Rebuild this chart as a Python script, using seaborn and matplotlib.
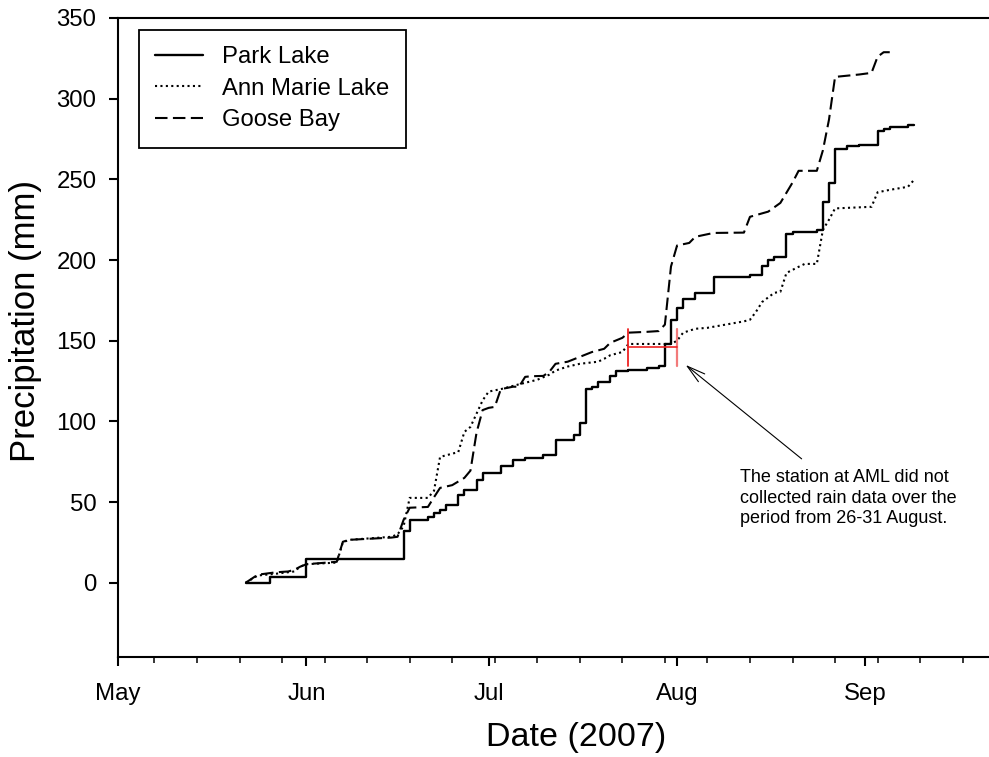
import matplotlib
matplotlib.use('Agg')
import matplotlib.pyplot as plt
import matplotlib.dates as mdates
import pandas as pd
import seaborn as sns

# ---------------- data (cumulative precipitation, mm) ----------------
park_dates = ["2007-05-22", "2007-05-26", "2007-06-01", "2007-06-17", "2007-06-18",
              "2007-06-21", "2007-06-22", "2007-06-23", "2007-06-24", "2007-06-26",
              "2007-06-27", "2007-06-29", "2007-06-30", "2007-07-03", "2007-07-05",
              "2007-07-07", "2007-07-10", "2007-07-12", "2007-07-15", "2007-07-16",
              "2007-07-17", "2007-07-18", "2007-07-19", "2007-07-21", "2007-07-22",
              "2007-07-24", "2007-07-27", "2007-07-29", "2007-07-30", "2007-07-31",
              "2007-08-01", "2007-08-02", "2007-08-04", "2007-08-07", "2007-08-13",
              "2007-08-15", "2007-08-16", "2007-08-17", "2007-08-19", "2007-08-20",
              "2007-08-24", "2007-08-25", "2007-08-26", "2007-08-27", "2007-08-29",
              "2007-08-31", "2007-09-03", "2007-09-04", "2007-09-05", "2007-09-08",
              "2007-09-09"]
park_vals = [0, 3.5, 15, 32, 39,
             41, 43, 45, 48, 54.5,
             57.5, 64, 68, 72.5, 76,
             77.5, 79, 88.5, 91.7, 99,
             120, 121.5, 124.5, 128, 131,
             132, 133, 134.5, 148, 163,
             170, 176, 179.7, 189.5, 191,
             196.6, 200, 202, 216, 217.5,
             218.7, 236, 248, 269, 270.4,
             271.4, 279.7, 281.3, 282.5, 283.6,
             283.8]

ann_dates = ["2007-05-22", "2007-05-24", "2007-05-27", "2007-05-30", "2007-05-31",
             "2007-06-01", "2007-06-06", "2007-06-07", "2007-06-08", "2007-06-15",
             "2007-06-16", "2007-06-17", "2007-06-18", "2007-06-21", "2007-06-22",
             "2007-06-23", "2007-06-26", "2007-06-27", "2007-06-28", "2007-06-30",
             "2007-07-01", "2007-07-03", "2007-07-04", "2007-07-06", "2007-07-09",
             "2007-07-11", "2007-07-12", "2007-07-14", "2007-07-16", "2007-07-19",
             "2007-07-20", "2007-07-21", "2007-07-23", "2007-07-24", "2007-07-31",
             "2007-08-01", "2007-08-02", "2007-08-04", "2007-08-06", "2007-08-09",
             "2007-08-12", "2007-08-13", "2007-08-14", "2007-08-15", "2007-08-17",
             "2007-08-18", "2007-08-19", "2007-08-21", "2007-08-22", "2007-08-24",
             "2007-08-25", "2007-08-26", "2007-08-27", "2007-09-02", "2007-09-03",
             "2007-09-05", "2007-09-08", "2007-09-09"]
ann_vals = [0, 4.5, 5.6, 7, 10,
            11.5, 12.5, 25, 26.6, 28.5,
            30, 35, 52.6, 52.6, 57,
            78, 81, 93.5, 96.6, 113,
            118.5, 120, 121, 123, 125.8,
            129, 131.5, 134, 135.7, 137,
            138.8, 141, 143, 148, 148,
            150, 155, 157.4, 158, 160,
            162, 163, 168, 174, 179.7,
            180.3, 192, 195.8, 197.6, 197.6,
            218.7, 225, 232, 233, 242,
            243.5, 245.4, 249.7]

goose_dates = ["2007-05-22", "2007-05-24", "2007-05-27", "2007-05-29", "2007-05-30",
               "2007-05-31", "2007-06-01", "2007-06-06", "2007-06-07", "2007-06-08",
               "2007-06-15", "2007-06-16", "2007-06-17", "2007-06-18", "2007-06-21",
               "2007-06-22", "2007-06-23", "2007-06-25", "2007-06-27", "2007-06-28",
               "2007-06-29", "2007-06-30", "2007-07-01", "2007-07-02", "2007-07-03",
               "2007-07-05", "2007-07-06", "2007-07-07", "2007-07-08", "2007-07-10",
               "2007-07-11", "2007-07-12", "2007-07-14", "2007-07-16", "2007-07-18",
               "2007-07-20", "2007-07-21", "2007-07-23", "2007-07-24", "2007-07-27",
               "2007-07-29", "2007-07-30", "2007-07-31", "2007-08-01", "2007-08-03",
               "2007-08-04", "2007-08-07", "2007-08-12", "2007-08-13", "2007-08-16",
               "2007-08-18", "2007-08-20", "2007-08-21", "2007-08-24", "2007-08-25",
               "2007-08-26", "2007-08-27", "2007-08-31", "2007-09-02", "2007-09-03",
               "2007-09-04", "2007-09-05"]
goose_vals = [0, 5, 6.5, 7, 8,
              10, 11.5, 13, 25.4, 26.6,
              28, 28.5, 39, 46.5, 47,
              53, 58.8, 60.5, 65, 69.5,
              93, 107, 108.4, 109, 120,
              121.5, 121.5, 127.6, 128, 128.2,
              130.8, 135.7, 137, 140, 143,
              145, 148.7, 151.8, 155, 155.5,
              156, 160, 196, 209, 210.6,
              214.4, 216.8, 217, 226.8, 230,
              235.4, 248, 255.3, 255.3, 268,
              287, 313.5, 315, 316, 326,
              328.8, 328.8]

series_names = ["Park Lake", "Ann Marie Lake", "Goose Bay"]
yticks = [0, 50, 100, 150, 200, 250, 300, 350]

gap_start, gap_end = "2007-07-24", "2007-08-01"
gap_low, gap_mid, gap_high = 134.3, 146.0, 157.3
note = "The station at AML did not\ncollected rain data over the\nperiod from 26-31 August."

# ---------------- style ----------------
sns.set_style("ticks")
plt.rcParams['font.family'] = ['Liberation Sans', 'DejaVu Sans']
plt.rcParams['text.color'] = 'black'
plt.rcParams['axes.labelcolor'] = 'black'

fig = plt.figure(figsize=(9.89, 7.57), dpi=100)
ax = fig.add_axes([118/989, 1 - 657/757, 871/989, 639/757])

sns.lineplot(x=pd.to_datetime(park_dates), y=park_vals, ax=ax, color='black',
             lw=1.7, drawstyle='steps-post', label=series_names[0],
             estimator=None, sort=False)
sns.lineplot(x=pd.to_datetime(ann_dates), y=ann_vals, ax=ax, color='black',
             lw=1.5, linestyle=(0, (1, 1.6)), label=series_names[1],
             estimator=None, sort=False)
sns.lineplot(x=pd.to_datetime(goose_dates), y=goose_vals, ax=ax, color='black',
             lw=1.5, linestyle=(0, (6, 2.6)), label=series_names[2],
             estimator=None, sort=False)

# gap marker (red)
gs, ge = pd.Timestamp(gap_start), pd.Timestamp(gap_end)
ax.plot([gs, gs], [gap_low, gap_high], color='#ee2222', lw=1.3)
ax.plot([ge, ge], [gap_low, gap_high], color='#f27a7a', lw=1.6)
ax.plot([gs, ge], [gap_mid, gap_mid], color='#ee2222', lw=1.2)

# annotation arrow and note
ax.annotate('', xy=(pd.Timestamp("2007-08-02 10:00"), 135),
            xytext=(pd.Timestamp("2007-08-21 12:00"), 76.8),
            arrowprops=dict(arrowstyle='->,head_length=1.1,head_width=0.3',
                            lw=0.8, color='black', mutation_scale=12,
                            shrinkA=0, shrinkB=0))
ax.text(pd.Timestamp("2007-08-11 08:00"), 70.5, note, fontsize=13,
        ha='left', va='top', linespacing=1.28, color='black')

# axes
ax.set_xlim(pd.Timestamp("2007-05-01"), pd.Timestamp("2007-09-21 08:00"))
ax.set_ylim(-46, 350)
ax.set_yticks(yticks)
ax.xaxis.set_major_locator(mdates.MonthLocator())
ax.xaxis.set_major_formatter(mdates.DateFormatter('%b'))
ax.xaxis.set_minor_locator(mdates.WeekdayLocator(byweekday=mdates.MO))

for side in ['left', 'bottom', 'top']:
    ax.spines[side].set_linewidth(1.5)
    ax.spines[side].set_color('black')
ax.spines['right'].set_visible(False)

ax.tick_params(axis='y', which='major', direction='out', length=6.5, width=1.5,
               labelsize=17.3, pad=9, colors='black')
ax.tick_params(axis='x', which='major', direction='out', length=6.5, width=1.5,
               labelsize=17.3, pad=12, colors='black')
ax.tick_params(axis='x', which='minor', direction='out', length=4.3, width=1.1,
               colors='black')
ax.tick_params(top=False, right=False, which='both')

ax.set_xlabel("Date (2007)", fontsize=24.5, color='black', ha='center', va='top')
ax.xaxis.set_label_coords((576 - 118) / 871, -(722 - 657) / 639)
ax.set_ylabel("Precipitation (mm)", fontsize=25, color='black')
ax.yaxis.set_label_coords((42 - 118) / 871, (657 - 321) / 639)

leg = ax.legend(loc='upper left', bbox_to_anchor=(21/871, 1 - 12/639),
                borderaxespad=0, fontsize=17.2, frameon=True, fancybox=False,
                handlelength=2.0, handletextpad=0.8, labelspacing=0.4,
                borderpad=0.68, labelcolor='black')
leg.get_frame().set_edgecolor('black')
leg.get_frame().set_linewidth(1.3)
leg.get_frame().set_alpha(1)

fig.savefig("out.png", dpi=100)
